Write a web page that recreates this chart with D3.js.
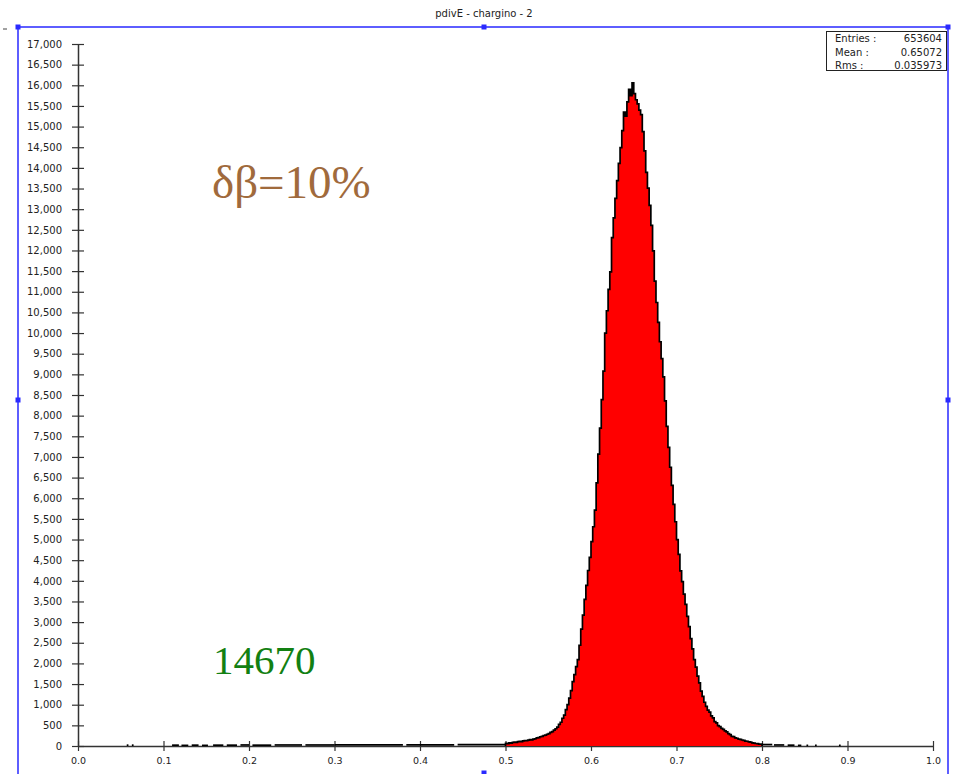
<!DOCTYPE html>
<html>
<head>
<meta charset="utf-8">
<style>
body { margin: 0; background: #fff; }
svg { display: block; font-family: "DejaVu Sans", sans-serif; }
</style>
</head>
<body>
<div id="chart"></div>
<script src="https://cdn.jsdelivr.net/npm/d3@7/dist/d3.min.js"></script>
<script>
var title = "pdivE - chargino - 2";

// main histogram, bins of 0.002 starting at 0.5
var binStart = 0.5;
var binWidth = 0.002;
var counts = [
    62, 58, 75, 70, 86, 93, 88, 105, 112, 108,
    123, 131, 128, 141, 152, 150, 168, 176, 196, 205,
    224, 232, 254, 262, 285, 300, 330, 346, 385, 418,
    455, 525, 575, 672, 750, 880, 1000, 1160, 1340, 1560,
    1730, 1920, 2090, 2440, 2830, 3170, 3550, 3890, 4250, 4570,
    4950, 5310, 5710, 6370, 7070, 7700, 8390, 9080, 10000, 10540,
    11060, 11480, 12310, 12790, 13260, 13690, 14110, 14490, 14900, 15350,
    15250, 15600, 15900, 15750, 16060, 15800, 15650, 15550, 15400, 15290,
    14880, 14410, 13890, 13510, 13090, 12610, 11990, 11260, 10740, 10260,
    9790, 9380, 8940, 8360, 7740, 7230, 6750, 6310, 5850, 5430,
    5000, 4640, 4240, 3980, 3680, 3430, 3140, 2890, 2600, 2350,
    2090, 1910, 1690, 1530, 1330, 1200, 1060, 960, 870, 820,
    730, 680, 590, 560, 495, 470, 425, 405, 365, 340,
    300, 275, 235, 225, 195, 188, 165, 162, 145, 138,
    120, 115, 98, 92, 78, 72, 60, 57, 46, 44
];

// sparse entries outside the main range
var tailLo     = [0.057, 0.063, 0.110, 0.121, 0.133, 0.145, 0.158, 0.174, 0.190, 0.204, 0.230, 0.266, 0.300, 0.384, 0.444, 0.800, 0.814, 0.830, 0.842, 0.852, 0.862, 0.890];
var tailHi     = [0.059, 0.065, 0.118, 0.129, 0.141, 0.152, 0.170, 0.186, 0.200, 0.226, 0.262, 0.300, 0.380, 0.440, 0.500, 0.812, 0.826, 0.838, 0.846, 0.854, 0.864, 0.892];
var tailCounts = [20, 20, 20, 15, 20, 15, 20, 20, 25, 20, 25, 25, 25, 25, 35, 35, 25, 20, 15, 15, 15, 15];

var xTicks = [0.0, 0.1, 0.2, 0.3, 0.4, 0.5, 0.6, 0.7, 0.8, 0.9, 1.0];
var yTicks = [0, 500, 1000, 1500, 2000, 2500, 3000, 3500, 4000, 4500, 5000, 5500, 6000, 6500, 7000, 7500, 8000,
              8500, 9000, 9500, 10000, 10500, 11000, 11500, 12000, 12500, 13000, 13500, 14000, 14500, 15000,
              15500, 16000, 16500, 17000];

var statNames = ["Entries :", "Mean :", "Rms :"];
var statValues = ["653604", "0.65072", "0.035973"];

var width = 958, height = 774;

var svg = d3.select("#chart").append("svg")
    .attr("width", width)
    .attr("height", height);

var x = d3.scaleLinear().domain([0, 1]).range([78, 933]);
var y = d3.scaleLinear().domain([0, 17000]).range([746, 44]);

// title
svg.append("text")
    .attr("x", 484).attr("y", 17)
    .attr("text-anchor", "middle")
    .style("font-size", "10px")
    .attr("fill", "#222")
    .text(title);

svg.append("line")
    .attr("x1", 3).attr("x2", 7).attr("y1", 29).attr("y2", 29)
    .attr("stroke", "#444");

// blue selection frame
var blue = "#2a2aff";
svg.append("path")
    .attr("d", "M18,774V27H948V774")
    .attr("fill", "none")
    .attr("stroke", blue)
    .attr("stroke-width", 1.5);
var handles = [[18, 27], [484, 27], [948, 27], [18, 400], [948, 400], [484, 773]];
svg.selectAll("rect.handle")
    .data(handles)
    .enter().append("rect")
    .attr("class", "handle")
    .attr("x", function(d) { return d[0] - 2.5; })
    .attr("y", function(d) { return d[1] - 2.5; })
    .attr("width", 5).attr("height", 5)
    .attr("fill", blue);

// axes
var axisColor = "#333";
var yAxis = d3.axisLeft(y)
    .tickValues(yTicks)
    .tickFormat(d3.format(","))
    .tickSize(6)
    .tickSizeOuter(0)
    .tickPadding(10);

var gy = svg.append("g")
    .attr("transform", "translate(" + x(0) + ",0)")
    .call(yAxis);
gy.selectAll(".tick").append("line").attr("x2", 6).attr("stroke", axisColor);

var xAxis = d3.axisBottom(x)
    .tickValues(xTicks)
    .tickFormat(d3.format(".1f"))
    .tickSize(5)
    .tickSizeOuter(0)
    .tickPadding(6);

var gx = svg.append("g")
    .attr("transform", "translate(0," + y(0) + ")")
    .call(xAxis);
gx.selectAll(".tick").append("line").attr("y2", -5).attr("stroke", axisColor);

[gx, gy].forEach(function(g) {
    g.select(".domain").attr("stroke", axisColor).attr("stroke-width", 1.5);
    g.selectAll(".tick line").attr("stroke", axisColor).attr("stroke-width", 1.2);
    g.selectAll("text").attr("fill", "#222").style("font-family", "DejaVu Sans, sans-serif");
});
gy.selectAll("text").style("font-size", "10px");
gx.selectAll("text").style("font-size", "9.5px");

// histogram steps
var pts = [];
counts.forEach(function(c, i) {
    var lo = binStart + i * binWidth;
    pts.push([lo, c], [lo + binWidth, c]);
});
var binEnd = binStart + counts.length * binWidth;

var area = d3.area()
    .x(function(d) { return x(d[0]); })
    .y0(y(0))
    .y1(function(d) { return y(d[1]); });

svg.append("path")
    .datum(pts)
    .attr("d", area)
    .attr("fill", "#ff0000");

var line = d3.line()
    .x(function(d) { return x(d[0]); })
    .y(function(d) { return y(d[1]); });

svg.append("path")
    .datum([[binStart, 0]].concat(pts, [[binEnd, 0]]))
    .attr("d", line)
    .attr("fill", "none")
    .attr("stroke", "#000")
    .attr("stroke-width", 1.7);

svg.selectAll("line.tail")
    .data(tailCounts)
    .enter().append("line")
    .attr("class", "tail")
    .attr("x1", function(d, i) { return x(tailLo[i]); })
    .attr("x2", function(d, i) { return x(tailHi[i]); })
    .attr("y1", function(d) { return y(d); })
    .attr("y2", function(d) { return y(d); })
    .attr("stroke", "#000")
    .attr("stroke-width", 1.7);

// stats box
var stats = svg.append("g");
stats.append("rect")
    .attr("x", 826.5).attr("y", 31.5)
    .attr("width", 120).attr("height", 39)
    .attr("fill", "#fff")
    .attr("stroke", "#222");
statNames.forEach(function(name, i) {
    stats.append("text")
        .attr("x", 835).attr("y", 42 + i * 13.5)
        .style("font-size", "10px")
        .attr("fill", "#222")
        .text(name);
    stats.append("text")
        .attr("x", 942).attr("y", 42 + i * 13.5)
        .attr("text-anchor", "end")
        .style("font-size", "10px")
        .attr("fill", "#222")
        .text(statValues[i]);
});

// annotations
svg.append("text")
    .attr("x", 212).attr("y", 198)
    .style("font-family", "Liberation Serif, serif")
    .style("font-size", "47px")
    .attr("fill", "#a06a3c")
    .text("δβ=10%");

svg.append("text")
    .attr("x", 213).attr("y", 674)
    .style("font-family", "Liberation Serif, serif")
    .style("font-size", "41px")
    .attr("fill", "#128012")
    .text("14670");
</script>
</body>
</html>
